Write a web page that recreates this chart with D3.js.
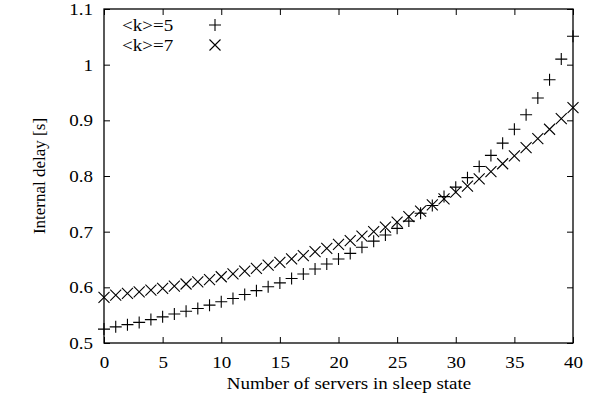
<!DOCTYPE html>
<html>
<head>
<meta charset="utf-8">
<script src="https://cdn.jsdelivr.net/npm/d3@7"></script>
<style>
  body { margin: 0; background: #fff; }
  text { font-family: "Liberation Serif", "Times New Roman", serif; fill: #000; }
</style>
</head>
<body>
<div id="chart"></div>
<script>
// sleeping servers on the x axis
var servers = d3.range(0, 41);

// internal delay, <k>=5 (plus marks)
var delayK5 = [0.525, 0.529, 0.533, 0.537, 0.542, 0.547, 0.552, 0.557, 0.562, 0.568,
               0.574, 0.580, 0.587, 0.594, 0.601, 0.608, 0.616, 0.624, 0.633, 0.642,
               0.651, 0.661, 0.672, 0.683, 0.694, 0.706, 0.719, 0.733, 0.747, 0.763,
               0.780, 0.797, 0.817, 0.837, 0.859, 0.884, 0.910, 0.940, 0.973, 1.010,
               1.051];

// internal delay, <k>=7 (cross marks)
var delayK7 = [0.582, 0.586, 0.589, 0.592, 0.595, 0.598, 0.602, 0.606, 0.610, 0.614,
               0.619, 0.624, 0.629, 0.634, 0.640, 0.645, 0.651, 0.657, 0.664, 0.670,
               0.677, 0.684, 0.692, 0.700, 0.708, 0.717, 0.727, 0.737, 0.748, 0.759,
               0.771, 0.782, 0.795, 0.808, 0.822, 0.836, 0.851, 0.867, 0.884, 0.903,
               0.923];

var seriesNames = ["<k>=5", "<k>=7"];
var xTicks = [0, 5, 10, 15, 20, 25, 30, 35, 40];
var yTicks = [0.5, 0.6, 0.7, 0.8, 0.9, 1.0, 1.1];

var W = 602, H = 409;
// plot box (window.top is reserved, so prefixed names)
var pLeft = 104, pRight = 573, pTop = 9, pBottom = 343;
var fs = "17px";
var sx = 1.12; // reference text is a bit wider than tall

var svg = d3.select("#chart")
            .append("svg")
            .attr("width", W)
            .attr("height", H);

var x = d3.scaleLinear().domain([0, 40]).range([pLeft, pRight]);
var y = d3.scaleLinear().domain([0.5, 1.1]).range([pBottom, pTop]);

// stretch a text sideways around its anchor point
function widen(sel){
  sel.each(function(){
    var t = d3.select(this);
    var ax = +t.attr("x") || 0;
    t.attr("transform", "translate(" + ax + ",0) scale(" + sx + ",1) translate(" + (-ax) + ",0)");
  });
}

// ticks on all four sides, pointing in
var tl = 6;
var fmtY = function(d){ return d3.format("~g")(d); };

svg.append("g")
   .attr("transform", "translate(0," + pBottom + ")")
   .call(d3.axisBottom(x).tickValues(xTicks).tickSizeInner(-tl).tickSizeOuter(0).tickPadding(13))
   .call(function(g){ g.select(".domain").remove(); })
   .selectAll("text").style("font-size", fs).attr("dy", "0.71em")
   .attr("transform", "scale(" + sx + ",1)");

svg.append("g")
   .attr("transform", "translate(0," + pTop + ")")
   .call(d3.axisTop(x).tickValues(xTicks).tickSizeInner(-tl).tickSizeOuter(0).tickFormat(""))
   .call(function(g){ g.select(".domain").remove(); });

svg.append("g")
   .attr("transform", "translate(" + pLeft + ",0)")
   .call(d3.axisLeft(y).tickValues(yTicks).tickSizeInner(-tl).tickSizeOuter(0).tickPadding(11).tickFormat(fmtY))
   .call(function(g){ g.select(".domain").remove(); })
   .selectAll("text").style("font-size", fs).call(widen);

svg.append("g")
   .attr("transform", "translate(" + pRight + ",0)")
   .call(d3.axisRight(y).tickValues(yTicks).tickSizeInner(-tl).tickSizeOuter(0).tickFormat(""))
   .call(function(g){ g.select(".domain").remove(); });

svg.selectAll(".tick line").attr("stroke", "#000").attr("stroke-width", 1);

svg.append("rect")
   .attr("x", pLeft)
   .attr("y", pTop)
   .attr("width", pRight - pLeft)
   .attr("height", pBottom - pTop)
   .attr("fill", "none")
   .attr("stroke", "#000")
   .attr("stroke-width", 1.3);

// axis titles
svg.append("text")
   .attr("x", 349)
   .attr("y", 389)
   .attr("text-anchor", "middle")
   .style("font-size", fs)
   .text("Number of servers in sleep state")
   .call(widen);

svg.append("text")
   .attr("transform", "translate(45," + ((pTop + pBottom) / 2) + ") rotate(-90)")
   .attr("text-anchor", "middle")
   .style("font-size", fs)
   .text("Internal delay [s]");

// marker shapes
var s = 6;
function plusPath(cx, cy){
  return "M" + (cx - s) + "," + cy + "H" + (cx + s) + "M" + cx + "," + (cy - s) + "V" + (cy + s);
}
function crossPath(cx, cy){
  var c = 5.5;
  return "M" + (cx - c) + "," + (cy - c) + "L" + (cx + c) + "," + (cy + c) +
         "M" + (cx - c) + "," + (cy + c) + "L" + (cx + c) + "," + (cy - c);
}

svg.append("g").selectAll("path")
   .data(servers)
   .enter().append("path")
   .attr("d", function(d, i){ return plusPath(x(d), y(delayK5[i])); })
   .attr("stroke", "#000")
   .attr("stroke-width", 1.1)
   .attr("fill", "none");

svg.append("g").selectAll("path")
   .data(servers)
   .enter().append("path")
   .attr("d", function(d, i){ return crossPath(x(d), y(delayK7[i])); })
   .attr("stroke", "#000")
   .attr("stroke-width", 1.1)
   .attr("fill", "none");

// legend
var legend = svg.append("g");
legend.append("text").attr("x", 122).attr("y", 31).style("font-size", fs).text(seriesNames[0]).call(widen);
legend.append("text").attr("x", 122).attr("y", 51).style("font-size", fs).text(seriesNames[1]).call(widen);
legend.append("path").attr("d", plusPath(215, 25)).attr("stroke", "#000").attr("stroke-width", 1.1).attr("fill", "none");
legend.append("path").attr("d", crossPath(215, 45)).attr("stroke", "#000").attr("stroke-width", 1.1).attr("fill", "none");
</script>
</body>
</html>
